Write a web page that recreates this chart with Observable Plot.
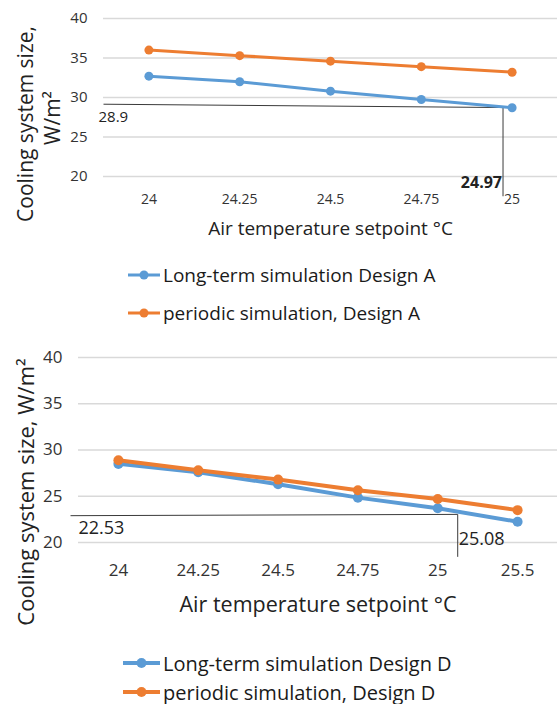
<!DOCTYPE html>
<html>
<head>
<meta charset="utf-8">
<script src="https://cdn.jsdelivr.net/npm/d3@7"></script>
<script src="https://cdn.jsdelivr.net/npm/@observablehq/plot@0.6"></script>
<style>
  body { margin: 0; background: #fff; font-family: "Open Sans", sans-serif; }
  #root { position: relative; width: 557px; height: 704px; overflow: hidden; background: #fff; }
  .panel { position: absolute; left: 0; }
  .leg { position: absolute; display: flex; align-items: center; color: #1a1a1a; white-space: nowrap; }
  .leg svg { display: block; margin-right: 3px; }
  .ytitle { position: absolute; white-space: nowrap; color: #222; line-height: 1;
            transform: translate(-50%, -50%) rotate(-90deg); }
</style>
</head>
<body>
<div id="root"></div>
<script>
// ---------- data ----------
const seriesA = ["Long-term simulation Design A", "periodic simulation, Design A"];
const setpointsA = [24, 24.25, 24.5, 24.75, 25];
const longTermA = [32.7, 32.0, 30.8, 29.75, 28.7];
const periodicA = [36.0, 35.3, 34.6, 33.9, 33.2];

const seriesD = ["Long-term simulation Design D", "periodic simulation, Design D"];
const setpointsD = [24, 24.25, 24.5, 24.75, 25, 25.5];
const longTermD = [28.5, 27.6, 26.3, 24.85, 23.7, 22.25];
const periodicD = [28.9, 27.8, 26.8, 25.65, 24.7, 23.5];

const yTicks = [20, 25, 30, 35, 40];
const yTitleLines = ["Cooling system size,", "W/m²"];
const yTitleD = "Cooling system size, W/m²";
const xTitle = "Air temperature setpoint °C";

// annotation guide lines and their labels
const annotA = { xLeft: 23.875, yLeft: 29.15, xPt: 24.975, yPt: 28.73, yEnd: 17.5, yLabel: "28.9", xLabel: "24.97" };
const annotD = { xLeft: 23.85, yLeft: 22.9, xPt: 25.125, yPt: 23.04, yEnd: 18.45, yLabel: "22.53", xLabel: "25.08" };

const colors = ["#5B9BD5", "#ED7D31"];

// ---------- helpers ----------
const fmt = d => String(d);
const root = document.getElementById("root");

function toRows(xs, a, b, names, pos) {
  const rows = [];
  xs.forEach((x, i) => rows.push({ series: names[0], x: pos(x), y: a[i] }));
  xs.forEach((x, i) => rows.push({ series: names[1], x: pos(x), y: b[i] }));
  return rows;
}

function legend(names, top, rowGap, left, fontSize, lineLen, dotR, sw) {
  names.forEach((n, i) => {
    const div = document.createElement("div");
    div.className = "leg";
    div.style.left = left + "px";
    div.style.top = (top + i * rowGap) + "px";
    div.style.fontSize = fontSize + "px";
    div.style.height = "0px";
    const ns = "http://www.w3.org/2000/svg";
    const svg = document.createElementNS(ns, "svg");
    svg.setAttribute("width", lineLen);
    svg.setAttribute("height", 12);
    const ln = document.createElementNS(ns, "line");
    ln.setAttribute("x1", 0); ln.setAttribute("x2", lineLen);
    ln.setAttribute("y1", 6); ln.setAttribute("y2", 6);
    ln.setAttribute("stroke", colors[i]); ln.setAttribute("stroke-width", sw);
    const c = document.createElementNS(ns, "circle");
    c.setAttribute("cx", lineLen / 2); c.setAttribute("cy", 6); c.setAttribute("r", dotR);
    c.setAttribute("fill", colors[i]);
    svg.appendChild(ln); svg.appendChild(c);
    const sp = document.createElement("span");
    sp.textContent = n;
    div.appendChild(svg); div.appendChild(sp);
    root.appendChild(div);
  });
}

function yTitle(text, cx, cy, fontSize) {
  const d = document.createElement("div");
  d.className = "ytitle";
  d.textContent = text;
  d.style.left = cx + "px";
  d.style.top = cy + "px";
  d.style.fontSize = fontSize + "px";
  root.appendChild(d);
}

// ---------- chart A ----------
const rowsA = toRows(setpointsA, longTermA, periodicA, seriesA, v => v);
const plotA = Plot.plot({
  width: 557, height: 240,
  marginLeft: 103, marginRight: 0, marginTop: 18, marginBottom: 64,
  style: { fontFamily: "Open Sans, sans-serif", background: "transparent", overflow: "visible", color: "#333" },
  x: { domain: [23.875, 25.125] },
  y: { domain: [20, 40] },
  color: { domain: seriesA, range: colors },
  marks: [
    Plot.gridY(yTicks, { stroke: "#d9d9d9", strokeOpacity: 1, strokeWidth: 1.3 }),
    Plot.axisY(yTicks, { tickSize: 0, tickPadding: 16, fontSize: 15, label: null, tickFormat: fmt }),
    Plot.axisX(setpointsA, { tickSize: 0, tickPadding: 18, fontSize: 14, label: null, tickFormat: fmt }),
    Plot.link([annotA], { x1: "xLeft", y1: "yLeft", x2: "xPt", y2: "yPt", stroke: "#3a3a3a", strokeWidth: 1 }),
    Plot.link([annotA], { x1: "xPt", y1: "yPt", x2: "xPt", y2: "yEnd", stroke: "#3a3a3a", strokeWidth: 1 }),
    Plot.text([annotA], { x: "xLeft", y: "yLeft", text: "yLabel", textAnchor: "start", lineAnchor: "middle", dx: -5, dy: 13, fontSize: 15, fill: "#222" }),
    Plot.text([annotA], { x: "xPt", y: 20, text: "xLabel", textAnchor: "end", lineAnchor: "middle", dx: -1, dy: 6, fontSize: 16, fontWeight: "bold", fill: "#222" }),
    Plot.line(rowsA, { x: "x", y: "y", z: "series", stroke: "series", strokeWidth: 3 }),
    Plot.dot(rowsA, { x: "x", y: "y", fill: "series", r: 4.5 }),
    Plot.text([xTitle], { frameAnchor: "bottom", text: d => d, dy: 52, fontSize: 19, fill: "#222", lineAnchor: "middle" })
  ]
});
plotA.classList.add("panel");
plotA.style.top = "0px";
root.appendChild(plotA);
yTitle(yTitleLines[0], 25, 124, 21);
yTitle(yTitleLines[1], 52, 118, 21);
legend(seriesA, 275, 38, 128, 19, 32, 4.5, 3);

// ---------- chart D ----------
// categorical axis: setpoints are placed at equally spaced category positions
const posD = d3.scaleLinear().domain([24, 25, 25.5]).range([0, 4, 5]);
const rowsD = toRows(setpointsD, longTermD, periodicD, seriesD, posD);
const annD = { ...annotD, xLeft: posD(annotD.xLeft), xPt: posD(annotD.xPt) };
const plotD = Plot.plot({
  width: 557, height: 290,
  marginLeft: 78, marginRight: 0, marginTop: 27, marginBottom: 78,
  style: { fontFamily: "Open Sans, sans-serif", background: "transparent", overflow: "visible", color: "#333" },
  x: { domain: [-0.5, 5.5] },
  y: { domain: [20, 40] },
  color: { domain: seriesD, range: colors },
  marks: [
    Plot.gridY(yTicks, { stroke: "#d9d9d9", strokeOpacity: 1, strokeWidth: 1.3 }),
    Plot.axisY(yTicks, { tickSize: 0, tickPadding: 16, fontSize: 17, label: null, tickFormat: fmt }),
    Plot.axisX(setpointsD.map(posD), { tickSize: 0, tickPadding: 21, fontSize: 17, label: null,
      tickFormat: d => fmt(+posD.invert(d).toFixed(2)) }),
    Plot.link([annD], { x1: "xLeft", y1: "yLeft", x2: "xPt", y2: "yPt", stroke: "#3a3a3a", strokeWidth: 1 }),
    Plot.link([annD], { x1: "xPt", y1: "yPt", x2: "xPt", y2: "yEnd", stroke: "#3a3a3a", strokeWidth: 1 }),
    Plot.text([annD], { x: "xLeft", y: "yLeft", text: "yLabel", textAnchor: "start", lineAnchor: "middle", dx: 8, dy: 13, fontSize: 18, fill: "#222" }),
    Plot.text([annD], { x: "xPt", y: 20, text: "xLabel", textAnchor: "start", lineAnchor: "middle", dx: 1, dy: -3, fontSize: 18, fill: "#222" }),
    Plot.line(rowsD, { x: "x", y: "y", z: "series", stroke: "series", strokeWidth: 4 }),
    Plot.dot(rowsD, { x: "x", y: "y", fill: "series", r: 5 }),
    Plot.text([xTitle], { frameAnchor: "bottom", text: d => d, dy: 63, fontSize: 21.5, fill: "#222", lineAnchor: "middle" })
  ]
});
plotD.classList.add("panel");
plotD.style.top = "330px";
root.appendChild(plotD);
yTitle(yTitleD, 25, 492, 22);
legend(seriesD, 663, 29, 123, 20, 37, 5, 4);
</script>
</body>
</html>
